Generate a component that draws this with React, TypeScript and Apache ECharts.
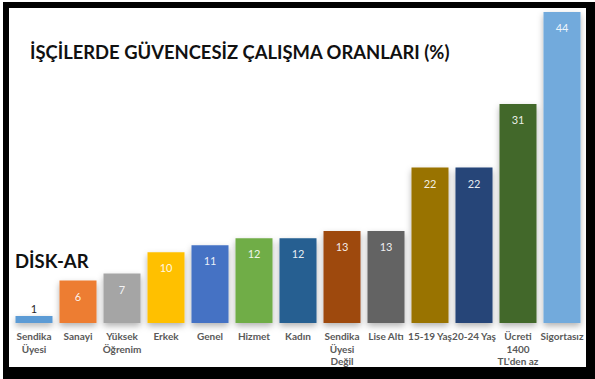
import React, { useEffect, useRef } from "react";
import * as echarts from "echarts";

const categories = [
  "Sendika\nÜyesi",
  "Sanayi",
  "Yüksek\nÖğrenim",
  "Erkek",
  "Genel",
  "Hizmet",
  "Kadın",
  "Sendika\nÜyesi\nDeğil",
  "Lise Altı",
  "15-19 Yaş",
  "20-24 Yaş",
  "Ücreti\n1400\nTL'den az",
  "Sigortasız",
];
const values = [1, 6, 7, 10, 11, 12, 12, 13, 13, 22, 22, 31, 44];
const barColors = [
  "#5B9BD5",
  "#ED7D31",
  "#A5A5A5",
  "#FFC000",
  "#4472C4",
  "#70AD47",
  "#255E91",
  "#9E480E",
  "#636363",
  "#997300",
  "#264478",
  "#43682B",
  "#72AADC",
];
const title = "İŞÇİLERDE GÜVENCESİZ ÇALIŞMA ORANLARI (%)";
const brand = "DİSK-AR";

export default function App() {
  const ref = useRef<HTMLDivElement>(null);
  useEffect(() => {
    if (!ref.current) return;
    const chart = echarts.init(ref.current, null, { renderer: "svg" });
    chart.setOption({
      animation: false,
      backgroundColor: "#ffffff",
      graphic: [
        { type: "rect", z: -10, shape: { x: 3, y: 2, width: 592, height: 377 }, style: { fill: "#000" } },
        { type: "rect", z: -9, shape: { x: 9, y: 8, width: 577, height: 359 }, style: { fill: "#fff" } },
        {
          type: "text",
          z: 10,
          x: 30,
          y: 52,
          style: {
            text: title,
            fontFamily: "Lato",
            fontWeight: "bold",
            fontSize: 18.4,
            fill: "#111",
            verticalAlign: "middle",
          },
        },
        {
          type: "text",
          z: 10,
          x: 15,
          y: 261,
          style: {
            text: brand,
            fontFamily: "Lato",
            fontWeight: "bold",
            fontSize: 18.5,
            fill: "#111",
            verticalAlign: "middle",
          },
        },
      ],
      grid: { left: 12, right: 11, top: 12, bottom: 56 },
      xAxis: {
        type: "category",
        data: categories,
        axisLine: { show: false },
        axisTick: { show: false },
        axisLabel: {
          interval: 0,
          margin: 7,
          fontFamily: "Lato",
          fontWeight: "bold",
          fontSize: 10,
          lineHeight: 12.5,
          color: "#595959",
          verticalAlign: "top",
        },
      },
      yAxis: {
        type: "value",
        min: 0,
        max: 44,
        show: false,
        splitLine: { show: false },
      },
      series: [
        {
          type: "bar",
          barWidth: 37,
          data: values.map((v, i) => ({
            value: v,
            itemStyle: { color: barColors[i] },
            label:
              i === 0
                ? { position: "top", color: "#262626", distance: 2 }
                : {},
          })),
          itemStyle: {
            shadowColor: "rgba(0,0,0,0.3)",
            shadowBlur: 6,
            shadowOffsetY: 3,
          },
          label: {
            show: true,
            position: "insideTop",
            distance: 10,
            fontFamily: "Lato",
            fontSize: 11,
            color: "rgba(255,255,255,0.9)",
          },
        },
      ],
    });
    return () => chart.dispose();
  }, []);
  return (
    <div
      ref={ref}
      style={{ position: "absolute", left: 0, top: 0, width: 595, height: 379 }}
    />
  );
}
